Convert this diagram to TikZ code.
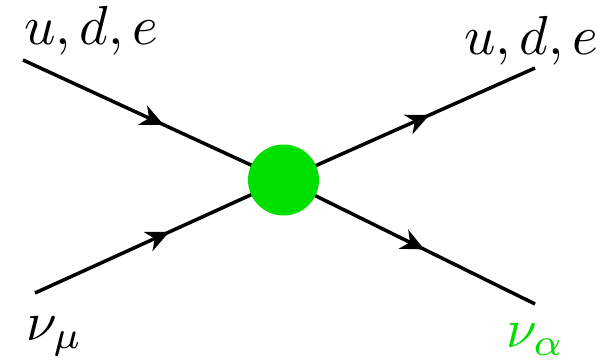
\documentclass[tikz,border=0pt]{standalone}
\usetikzlibrary{arrows.meta,decorations.markings}
\definecolor{vgreen}{RGB}{0,224,0}
\begin{document}
\begin{tikzpicture}[x=1pt,y=-1pt,
  fermion/.style={line width=3.5pt,postaction={decorate},
    decoration={markings,mark=at position #1 with {\arrow{Stealth[length=23pt,width=21pt,inset=7pt]}}}},
  lbl/.style={anchor=base west,inner sep=0pt,scale=5.5}]
\useasboundingbox (0,0) rectangle (613,361);
\coordinate (a) at (23,60);
\coordinate (b) at (35,293);
\coordinate (c) at (535,68);
\coordinate (d) at (535,304);
\coordinate (v) at (283.5,180);
\draw[fermion=0.54] (a) -- (v);
\draw[fermion=0.54] (b) -- (v);
\draw[fermion=0.58] (v) -- (c);
\draw[fermion=0.56] (v) -- (d);
\node[circle,fill=vgreen,minimum size=71pt,inner sep=0pt] (blob) at (v) {};
\node[lbl] (la) at (23,45) {$u,d,e$};
\node[lbl] (lc) at (463,55) {$u,d,e$};
\node[lbl] (lb) at (25,340) {$\nu_\mu$};
\node[lbl,text=vgreen] (ld) at (505,347) {$\nu_\alpha$};
\end{tikzpicture}
\end{document}
